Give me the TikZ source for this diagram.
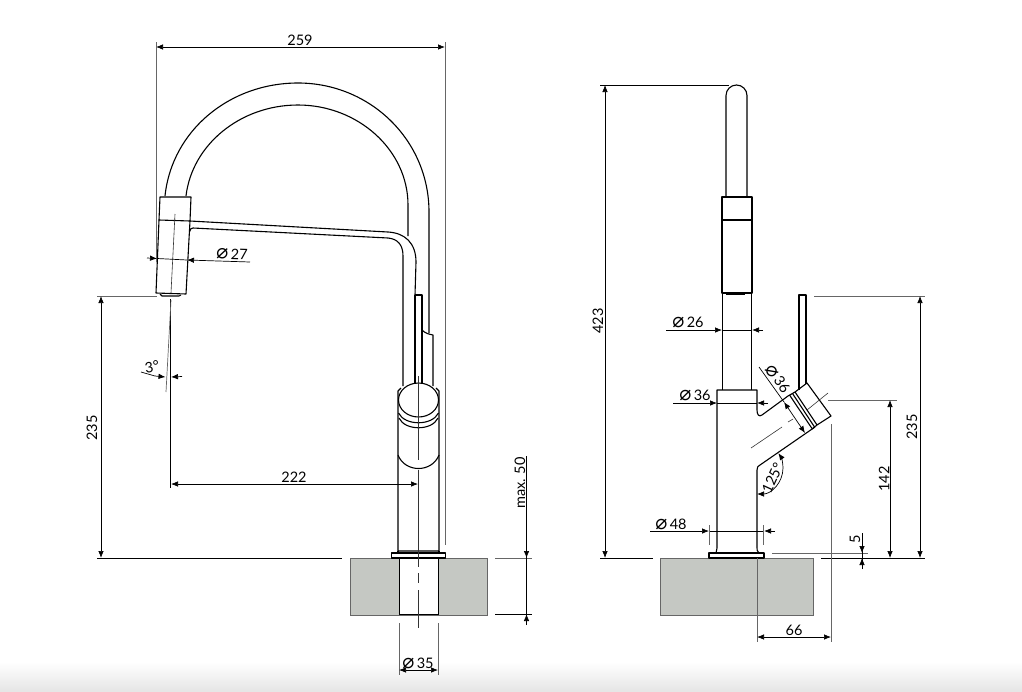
\documentclass[tikz,border=0pt]{standalone}
\usepackage{fontspec}
\setmainfont{Lato}
\newfontfamily\symbfont{DejaVu Sans}
\usetikzlibrary{arrows.meta}
\newcommand{\diam}{{\symbfont\fontsize{20}{20}\selectfont ⌀}}
\definecolor{counter}{RGB}{197,200,195}
\tikzset{
  part/.style={black,line width=1.1pt,line join=round},
  dimline/.style={black,line width=0.7pt},
  extline/.style={black!60,line width=0.7pt},
  center/.style={black!80,line width=0.6pt},
  dimtext/.style={font=\fontsize{14.5}{16}\selectfont,inner sep=0pt},
  >={Latex[length=7pt,width=5.5pt]}
}
\begin{document}
\begin{tikzpicture}[x=1pt,y=-1pt]
\useasboundingbox (0,0) rectangle (1022,691);
\shade[top color=white,bottom color=black!10] (0,662) rectangle (1022,691);
\coordinate (tl) at (101,558);
\coordinate (tr) at (605,558);
\coordinate (m) at (757,468);

% counter tops
\fill[counter] (350,558) rectangle (487,615);
\draw[extline] (350,558) rectangle (487,615);
\fill[white] (399,558) rectangle (438,614);
\draw[black,line width=0.8pt] (399,558) rectangle (438,614);
\fill[counter] (660.5,558) rectangle (813,615);
\draw[extline] (660.5,558) rectangle (813,615);

% left view, spout
\draw[part] (165,196) .. controls (172,130) and (230,83) .. (298,83) .. controls (370,83) and (429,140) .. (429,212) -- (429,333);
\draw[part] (186,196) .. controls (192,145) and (240,105) .. (298,105) .. controls (358,105) and (408,150) .. (408,205) -- (408,236);
\draw[part] (160,197) -- (191,197) -- (190,221) -- (159,220) -- cycle;
\draw[part] (159,220) -- (156,293) -- (186,294) -- (190,221);
\draw[part] (160,294) -- (162,296) -- (179,296) -- (181,295);
\draw[part] (190,221) -- (388,232) .. controls (405,233) and (416,243) .. (416,262) -- (415,295);
\draw[part] (189.5,232) .. controls (190,229) and (191,228) .. (193,228) -- (388,238) .. controls (398,239) and (403,245) .. (403,256) -- (403,386);
\draw[part] (415,295) -- (422,295) -- (422,386);
\draw[part] (415,295) -- (415,386);
\draw[part] (422,330) .. controls (425,333) and (428,334) .. (433,335) -- (433,386);

% left view, body
\draw[part] (401,388) -- (398,391) -- (398,551) -- (439,551) -- (439,391) -- (436,388);
\draw[part,fill=white] (391.5,553) rectangle (445.5,558);
\draw[part] (398,553) -- (398,551) (439,553) -- (439,551);
\draw[part,fill=white] (418.5,400) circle[x radius=20,y radius=17];
\draw[part] (398.5,413) .. controls (405,426) and (432,426) .. (438.5,413);
\draw[part] (399,418) .. controls (405,431) and (432,431) .. (438,418);
\draw[part] (398,455) .. controls (405,473) and (432,473) .. (439,455);
\draw[center] (418.5,376) -- (418.5,460) (418.5,470) -- (418.5,567) (418.5,573) -- (418.5,583) (418.5,590) -- (418.5,628);
\draw[center] (175,214) -- (171,293);

% left view, dimensions
\draw[dimline,<->] (156,47) -- (445,47);
\draw[extline] (156,42) -- (156,262) (445,42) -- (445,545);
\node[dimtext] (wtop) at (300,40) {259};
\draw[dimline,->] (147,258) -- (157,258.5);
\draw[dimline,->] (250,262) -- (187,260);
\draw[dimline] (157,258.5) -- (187,260);
\node[dimtext,rotate=-2] (wstream) at (232,254) {\diam\,27};
\draw[extline] (97,296) -- (157,296);
\draw[black,line width=0.7pt] (97,558) -- (342,558);
\draw[dimline,<->] (tl) -- (101,296);
\node[dimtext,rotate=90] (hsp) at (92,428) {235};
\draw[dimline] (170.5,299) -- (170.5,488);
\draw[extline] (171,300) -- (166,392);
\draw[dimline] (141,372) -- (155,376);
\draw[dimline,->] (155,376) -- (165.5,377);
\draw[dimline,->] (182,376.5) -- (171,377);
\node[dimtext,rotate=10] (ang) at (152,367) {3°};
\draw[dimline,<->] (171,484) -- (418,484);
\node[dimtext] (wsp) at (294,477) {222};
\draw[extline] (495,558) -- (532,558);
\draw[black,line width=0.7pt] (495,614) -- (532,614);
\draw[dimline] (526.5,456) -- (526.5,625);
\draw[dimline,->] (526.5,540) -- (526.5,558);
\draw[dimline,->] (526.5,625) -- (526.5,614);
\node[dimtext,rotate=90] (hmax) at (520,483) {max. 50};
\draw[extline] (399,623) -- (399,675) (438,623) -- (438,675);
\draw[dimline,<->] (399,670) -- (438,670);
\node[dimtext] (wh) at (418,663) {\diam\,35};

% right view, tube and head
\draw[part] (726,197) -- (726,95.5) arc[start angle=180,end angle=360,radius=10.5] -- (747,197);
\draw[part] (722,197) rectangle (752,293);
\draw[black,line width=1.6pt] (722,220) -- (752,220);
\draw[part] (726,294.5) -- (745,294.5);
\draw[part] (722.5,293) -- (722.5,390) (751.5,293) -- (751.5,390);

% right view, body
\draw[part] (709,553) rectangle (764,558);
\draw[part] (716,553) .. controls (717,551) and (717,550) .. (717,548) -- (717,390) -- (757,390) -- (757,410) .. controls (757,415) and (759,417) .. (762,415) -- (788,396);
\draw[part] (815,427) -- (760,465) .. controls (758,466) and (757,467) .. (757,470) -- (757,548) .. controls (757,550) and (757,551) .. (759,553);
\draw[part] (799,390) -- (799,295) -- (806,295) -- (806,384);
\draw[part] (795,392) -- (807,383) -- (831,416) -- (817,425) -- cycle;
\draw[part] (788,396) -- (795,392) (812,429) -- (817,425);
\draw[part] (789.5,395) -- (812,428.5);
\draw[part] (792.5,393.5) -- (814.5,427);
\draw[center] (751,448) -- (782,427) (788,422) -- (793,419) (807,410) -- (828,393);

% right view, dimensions
\draw[dimline,<->] (tr) -- (605,85);
\draw[black,line width=0.7pt] (600,85) -- (729,85);
\draw[black,line width=0.7pt] (600,558) -- (653,558);
\draw[black,line width=0.7pt] (821,558) -- (925,558);
\node[dimtext,rotate=90] (hall) at (598,321) {423};
\draw[extline] (814,296) -- (925,296) (828,400) -- (897,400);
\draw[dimline,<->] (920,558) -- (920,296);
\node[dimtext,rotate=90] (hlev) at (912,427) {235};
\draw[dimline,<->] (890,558) -- (890,400);
\node[dimtext,rotate=90] (hjoint) at (884,479) {142};
\draw[extline] (772,553) -- (868,553);
\draw[dimline] (862,533) -- (862,569);
\draw[dimline,->] (862,540) -- (862,553);
\draw[dimline,->] (862,569) -- (862,558);
\node[dimtext,rotate=90] (hbase) at (855,539) {5};
\draw[extline] (757,558) -- (757,642) (831,424) -- (831,642);
\draw[dimline,<->] (757,637) -- (831,637);
\node[dimtext] (wlev) at (794,630) {66};
\draw[dimline,->] (666,330) -- (722,330);
\draw[dimline,->] (763,330) -- (752,330);
\draw[dimline] (722,330) -- (752,330);
\node[dimtext] (wstem) at (688,322) {\diam\,26};
\draw[dimline,->] (673,403) -- (717,403);
\draw[dimline,->] (768,403) -- (757,403);
\draw[dimline] (717,403) -- (757,403);
\node[dimtext] (wbody) at (695,395) {\diam\,36};
\draw[dimline,->] (650,531) -- (709,531);
\draw[dimline,->] (775,531) -- (764,531);
\draw[dimline] (709,531) -- (764,531);
\draw[extline] (709,525) -- (709,545) (763.5,525) -- (763.5,545);
\node[dimtext] (wfoot) at (671,524) {\diam\,48};
\draw[dimline] (759,367) -- (784,402);
\draw[dimline,<->] (784,402) -- (805,433);
\node[dimtext,rotate=-55] (wjoint) at (778,379) {\diam\,36};
\draw[dimline,<->] (m) ++(0,26) arc[start angle=90,end angle=-35,radius=26];
\node[dimtext,rotate=65] (ajoint) at (772.5,478) {125°};
\end{tikzpicture}
\end{document}
